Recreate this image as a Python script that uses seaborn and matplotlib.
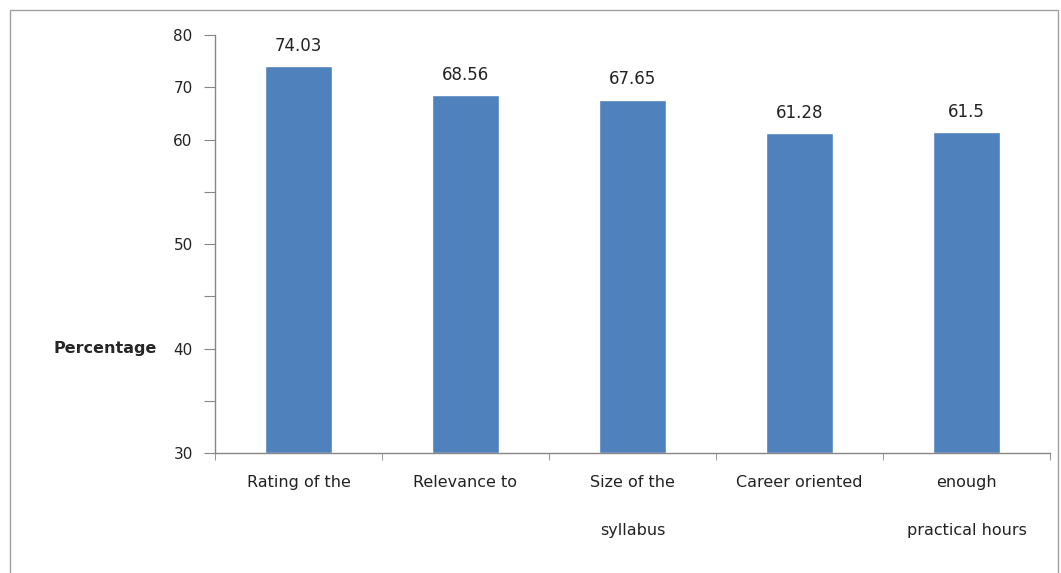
import matplotlib
matplotlib.use("Agg")
import matplotlib.pyplot as plt
import seaborn as sns
import pandas as pd

categories = ["Rating of the", "Relevance to", "Size of the\nsyllabus",
              "Career oriented", "enough\npractical hours"]
values = [74.03, 68.56, 67.65, 61.28, 61.5]
value_labels = ["74.03", "68.56", "67.65", "61.28", "61.5"]
ytick_values = [0, 10, 20, 30, 40, 50, 60, 70, 80]
ytick_labels = ["30", "", "40", "", "50", "", "60", "70", "80"]

sns.set_style("white")
plt.rcParams["font.family"] = ["DejaVu Sans"]

df = pd.DataFrame({"category": categories, "value": values})

fig = plt.figure(figsize=(10.61, 5.73), dpi=100)
ax = fig.add_axes([0.2026, 0.2094, 0.787, 0.7295])

sns.barplot(data=df, x="category", y="value", color="#4F81BD",
            width=0.4, saturation=1, ax=ax)

# value labels above bars
for i, (v, lab) in enumerate(zip(values, value_labels)):
    ax.annotate(lab, (i, v), xytext=(0, 8), textcoords="offset points",
                ha="center", va="bottom", fontsize=12, color="#222222")

ax.set_ylim(0, 80)
ax.set_xlim(-0.5, len(categories) - 0.5)
ax.set_yticks(ytick_values)
ax.set_yticklabels(ytick_labels, fontsize=11, color="#222222")

ax.set_xticks(range(len(categories)))
ax.set_xticklabels(categories, fontsize=11.5, color="#222222", linespacing=3.7)
ax.set_xticks([x - 0.5 for x in range(len(categories) + 1)], minor=True)
ax.tick_params(axis="x", which="major", bottom=False, length=0, pad=16)
ax.tick_params(axis="x", which="minor", bottom=True, length=5,
               color="#868686", direction="out")
ax.tick_params(axis="y", left=True, length=8, color="#868686",
               direction="out", pad=8)

ax.set_xlabel("")
ax.set_ylabel("Percentage", rotation=0, fontsize=11.5, fontweight="bold",
              ha="right", va="center")
ax.yaxis.set_label_coords(-0.069, 0.25)

sns.despine(ax=ax, top=True, right=True)
for side in ["left", "bottom"]:
    ax.spines[side].set_color("#868686")
    ax.spines[side].set_linewidth(1.0)

# outer chart-area border
border = plt.Rectangle((10 / 1061, -0.01), 1048 / 1061, 1 - 10 / 573 + 0.01,
                       transform=fig.transFigure, fill=False,
                       edgecolor="#a0a0a0", linewidth=1.0)
fig.patches.append(border)

fig.savefig("out.png", dpi=100)
